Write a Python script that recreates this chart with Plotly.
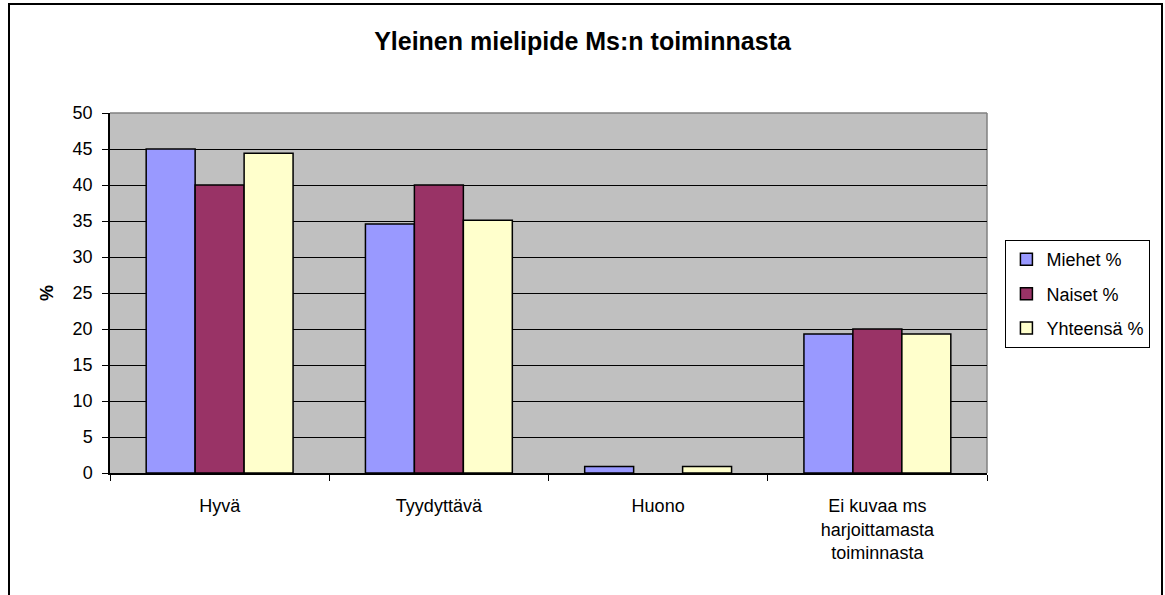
import plotly.graph_objects as go

categories = ["Hyvä", "Tyydyttävä", "Huono", "Ei kuvaa ms<br>harjoittamasta<br>toiminnasta"]
miehet = [45.0, 34.6, 0.9, 19.3]
naiset = [40.0, 40.0, 0.0, 20.0]
yhteensa = [44.4, 35.1, 0.9, 19.3]
series_names = ["Miehet %", "Naiset %", "Yhteensä %"]
colors = ["#9999FF", "#993366", "#FFFFCC"]

fig = go.Figure()
for name, vals, col in zip(series_names, [miehet, naiset, yhteensa], colors):
    fig.add_trace(go.Bar(
        x=categories, y=vals, name=name, legendgroup=name,
        marker=dict(color=col,
                    line=dict(color="black", width=[1.5 if v > 0 else 0 for v in vals])),
    ))

fig.update_layout(
    width=1165, height=595,
    margin=dict(l=110, r=178, t=113, b=122),
    paper_bgcolor="white",
    plot_bgcolor="#C0C0C0",
    barmode="group",
    bargap=0.33,
    bargroupgap=0,
    font=dict(family="Liberation Sans, Arial", size=18, color="black"),
    title=dict(text="<b>Yleinen mielipide Ms:n toiminnasta</b>",
               x=0.5, xref="container", xanchor="center",
               y=1 - 41 / 595, yref="container", yanchor="middle",
               font=dict(size=25)),
    legend=dict(
        x=1.021, y=0.647, xanchor="left", yanchor="top",
        bgcolor="white", bordercolor="black", borderwidth=1,
        font=dict(size=18), tracegroupgap=8, traceorder="grouped",
        itemwidth=30,
    ),
    showlegend=True,
)

fig.update_xaxes(
    showline=True, linecolor="black", linewidth=1.5,
    ticks="outside", tickson="boundaries", ticklen=6, tickcolor="black",
    showgrid=False, tickfont=dict(size=18), ticklabelstandoff=16,
)
fig.update_yaxes(
    range=[0, 50], dtick=5, tick0=0,
    showline=True, linecolor="black", linewidth=1.5,
    ticks="outside", ticklen=6, tickcolor="black",
    showgrid=True, gridcolor="black", gridwidth=1,
    zeroline=False,
    tickfont=dict(size=18), ticklabelstandoff=6,
    title=dict(text="<b>%</b>", font=dict(size=18), standoff=14),
)

# plot area border (gray top/right)
fig.add_shape(type="line", xref="paper", yref="paper", x0=0, x1=1, y0=1, y1=1,
              line=dict(color="#808080", width=1.5), layer="below")
fig.add_shape(type="line", xref="paper", yref="paper", x0=1, x1=1, y0=0, y1=1,
              line=dict(color="#808080", width=1.5), layer="below")

# outer chart border
pw = 1165 - 110 - 178
ph = 595 - 113 - 122
fig.add_shape(type="rect", xref="paper", yref="paper",
              x0=(9 - 110) / pw, x1=(1162 - 110) / pw,
              y0=(473 - 600) / ph, y1=(473 - 4) / ph,
              line=dict(color="black", width=2), fillcolor="rgba(0,0,0,0)")

fig.write_html("out.html", config={"displayModeBar": False},
               post_script="document.body.style.margin='0';document.body.style.padding='0';")
